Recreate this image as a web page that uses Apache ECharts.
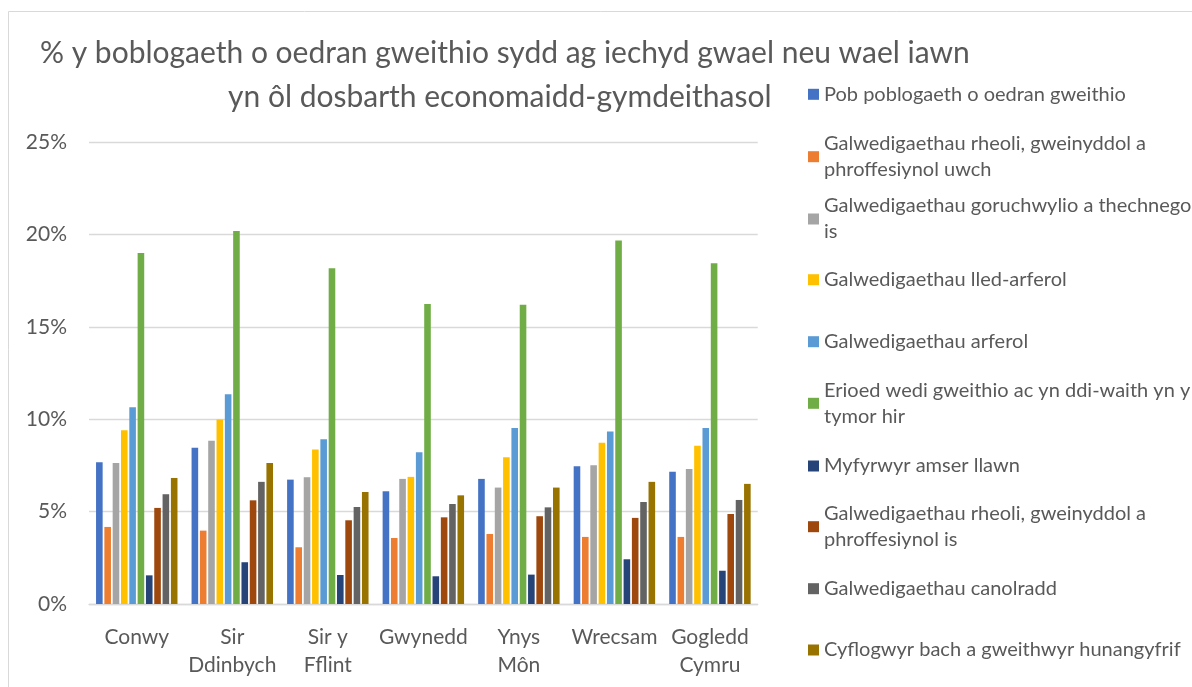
<!DOCTYPE html>
<html>
<head>
<meta charset="utf-8">
<script src="https://cdn.jsdelivr.net/npm/echarts@6/dist/echarts.min.js"></script>
<style>
html,body{margin:0;padding:0;background:#fff;}
#chart{width:1192px;height:687px;}
</style>
</head>
<body>
<div id="chart"></div>
<script>
const categories = ['Conwy', 'Sir\nDdinbych', 'Sir y\nFflint', 'Gwynedd', 'Ynys\nMôn', 'Wrecsam', 'Gogledd\nCymru'];

const seriesNames = [
  'Pob poblogaeth o oedran gweithio',
  'Galwedigaethau rheoli, gweinyddol a phroffesiynol uwch',
  'Galwedigaethau goruchwylio a thechnegol is',
  'Galwedigaethau lled-arferol',
  'Galwedigaethau arferol',
  'Erioed wedi gweithio ac yn ddi-waith yn y tymor hir',
  'Myfyrwyr amser llawn',
  'Galwedigaethau rheoli, gweinyddol a phroffesiynol is',
  'Galwedigaethau canolradd',
  'Cyflogwyr bach a gweithwyr hunangyfrif'
];

const legendLabels = [
  'Pob poblogaeth o oedran gweithio',
  'Galwedigaethau rheoli, gweinyddol a\nphroffesiynol uwch',
  'Galwedigaethau goruchwylio a thechnegol\nis',
  'Galwedigaethau lled-arferol',
  'Galwedigaethau arferol',
  'Erioed wedi gweithio ac yn ddi-waith yn y\ntymor hir',
  'Myfyrwyr amser llawn',
  'Galwedigaethau rheoli, gweinyddol a\nphroffesiynol is',
  'Galwedigaethau canolradd',
  'Cyflogwyr bach a gweithwyr hunangyfrif'
];

const colors = ['#4472C4', '#ED7D31', '#A5A5A5', '#FFC000', '#5B9BD5', '#70AD47', '#264478', '#9E480E', '#636363', '#997300'];

// values in %, one array per series, in category order
const allWorkingAge   = [7.67, 8.45, 6.73, 6.10, 6.77, 7.45, 7.16];
const higherManagerial= [4.17, 3.97, 3.07, 3.57, 3.79, 3.63, 3.63];
const lowerSupervisory= [7.63, 8.84, 6.86, 6.77, 6.30, 7.51, 7.31];
const semiRoutine     = [9.40, 9.98, 8.36, 6.88, 7.94, 8.72, 8.57];
const routine         = [10.65, 11.35, 8.92, 8.21, 9.53, 9.33, 9.53];
const neverWorked     = [18.99, 20.18, 18.17, 16.24, 16.19, 19.67, 18.44];
const students        = [1.55, 2.26, 1.57, 1.50, 1.59, 2.42, 1.80];
const lowerManagerial = [5.20, 5.61, 4.53, 4.69, 4.75, 4.66, 4.87];
const intermediate    = [5.94, 6.61, 5.25, 5.41, 5.23, 5.52, 5.63];
const smallEmployers  = [6.82, 7.63, 6.06, 5.88, 6.30, 6.61, 6.50];

const yTicks = [0, 5, 10, 15, 20, 25];

const seriesData = [allWorkingAge, higherManagerial, lowerSupervisory, semiRoutine, routine,
  neverWorked, students, lowerManagerial, intermediate, smallEmployers];

const FONT = 'Lato';
const TXT = '#595959';

const legendFirstLineY = [94.3, 156.7, 219, 279.7, 341.7, 403.3, 466, 526.7, 588.7, 650];
const LH = 26;

const legends = seriesNames.map((name, i) => {
  const twoLine = legendLabels[i].indexOf('\n') >= 0;
  return {
    data: [name],
    orient: 'vertical',
    left: 808,
    top: twoLine ? legendFirstLineY[i] - 1.5 * LH : legendFirstLineY[i] - 0.5 * LH,
    padding: 0,
    itemWidth: 11,
    itemHeight: 11,
    icon: 'rect',
    formatter: () => legendLabels[i],
    textStyle: {
      fontFamily: FONT,
      fontSize: 20,
      color: TXT,
      lineHeight: LH,
      padding: twoLine ? [LH, 0, 0, 0] : 0
    },
    selectedMode: false
  };
});

const chart = echarts.init(document.getElementById('chart'), null, { renderer: 'canvas' });
chart.setOption({
  animation: false,
  backgroundColor: '#ffffff',
  color: colors,
  title: [
    {
      text: '% y boblogaeth o oedran gweithio sydd ag iechyd gwael neu wael iawn',
      left: 40, top: 34, padding: 0,
      textStyle: { fontFamily: FONT, fontSize: 30, fontWeight: 'normal', color: TXT, lineHeight: 38 }
    },
    {
      text: 'yn ôl dosbarth economaidd-gymdeithasol',
      left: 228, top: 78, padding: 0,
      textStyle: { fontFamily: FONT, fontSize: 30, fontWeight: 'normal', color: TXT, lineHeight: 38 }
    }
  ],
  legend: legends,
  graphic: [{
    type: 'rect', silent: true, z: -1,
    shape: { x: 8.5, y: 11.5, width: 1400, height: 900 },
    style: { fill: 'none', stroke: '#D9D9D9', lineWidth: 1 }
  }],
  grid: { left: 89, right: 1192 - 757.7, top: 142, bottom: 687 - 604, containLabel: false },
  xAxis: {
    type: 'category',
    data: categories,
    axisLine: { show: true, lineStyle: { color: '#D9D9D9', width: 1.3 } },
    axisTick: { show: false },
    axisLabel: { fontFamily: FONT, fontSize: 21, color: TXT, lineHeight: 28, margin: 19, interval: 0 }
  },
  yAxis: {
    type: 'value',
    min: 0, max: 25, interval: 5,
    axisLine: { show: false },
    axisTick: { show: false },
    splitLine: { lineStyle: { color: '#D9D9D9', width: 1.3 } },
    axisLabel: { fontFamily: FONT, fontSize: 21, color: TXT, margin: 22,
      formatter: v => (yTicks.indexOf(v) >= 0 ? v + '%' : '') }
  },
  series: seriesNames.map((name, i) => ({
    name: name,
    type: 'bar',
    data: seriesData[i],
    barWidth: 6.6,
    barGap: '26%',
    itemStyle: { color: colors[i] }
  }))
});
</script>
</body>
</html>
